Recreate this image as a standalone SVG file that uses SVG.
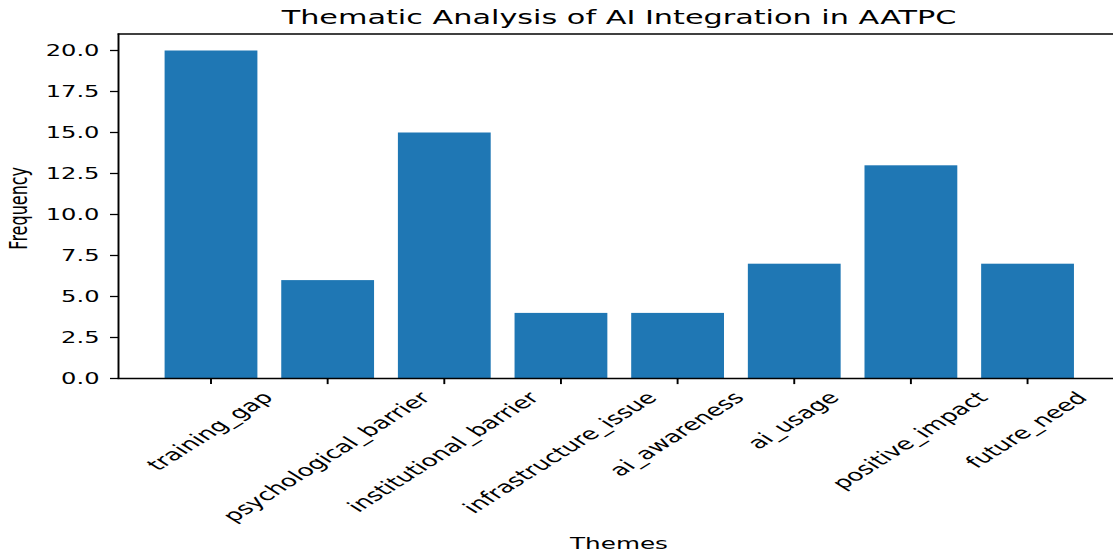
<svg xmlns="http://www.w3.org/2000/svg" width="1113" height="554" viewBox="0 0 1113 554">
  <style>
    text { font-family: "DejaVu Sans", "Liberation Sans", sans-serif; fill: #000; }
    .tick { font-size: 13.89px; }
    .xlab { font-size: 14.3px; }
    .ytl { text-anchor: end; }
    .xtl { text-anchor: middle; }
    .bar { fill: #1f77b4; }
    .vline { stroke: #000; stroke-width: 1.93; fill: none; }
    .hline { stroke: #000; stroke-width: 1.28; fill: none; }
  </style>

  <rect width="1113" height="554" fill="#fff"/>

  <!-- bars -->
  <g id="bars">
    <g id="bar-training_gap"><rect class="bar" x="164.6" y="50.5" width="92.8" height="328"/></g>
    <g id="bar-psychological_barrier"><rect class="bar" x="281.25" y="280.1" width="92.8" height="98.4"/></g>
    <g id="bar-institutional_barrier"><rect class="bar" x="397.9" y="132.5" width="92.8" height="246"/></g>
    <g id="bar-infrastructure_issue"><rect class="bar" x="514.55" y="312.9" width="92.8" height="65.6"/></g>
    <g id="bar-ai_awareness"><rect class="bar" x="631.2" y="312.9" width="92.8" height="65.6"/></g>
    <g id="bar-ai_usage"><rect class="bar" x="747.85" y="263.7" width="92.8" height="114.8"/></g>
    <g id="bar-positive_impact"><rect class="bar" x="864.5" y="165.3" width="92.8" height="213.2"/></g>
    <g id="bar-future_need"><rect class="bar" x="981.15" y="263.7" width="92.8" height="114.8"/></g>
  </g>

  <!-- axes frame and ticks -->
  <g id="axes">
    <line class="vline" x1="118.5" y1="33.4" x2="118.5" y2="379.1"/>
    <line class="hline" x1="117.6" y1="34" x2="1113" y2="34"/>
    <line class="hline" x1="117.6" y1="378.5" x2="1113" y2="378.5"/>
    <!-- y ticks -->
    <g class="hline">
      <line x1="110" y1="378.5" x2="118.5" y2="378.5"/>
      <line x1="110" y1="337.5" x2="118.5" y2="337.5"/>
      <line x1="110" y1="296.5" x2="118.5" y2="296.5"/>
      <line x1="110" y1="255.5" x2="118.5" y2="255.5"/>
      <line x1="110" y1="214.5" x2="118.5" y2="214.5"/>
      <line x1="110" y1="173.5" x2="118.5" y2="173.5"/>
      <line x1="110" y1="132.5" x2="118.5" y2="132.5"/>
      <line x1="110" y1="91.5" x2="118.5" y2="91.5"/>
      <line x1="110" y1="50.5" x2="118.5" y2="50.5"/>
    </g>
    <!-- x ticks -->
    <g class="vline">
      <line x1="211" y1="378.5" x2="211" y2="384.1"/>
      <line x1="327.65" y1="378.5" x2="327.65" y2="384.1"/>
      <line x1="444.3" y1="378.5" x2="444.3" y2="384.1"/>
      <line x1="560.95" y1="378.5" x2="560.95" y2="384.1"/>
      <line x1="677.6" y1="378.5" x2="677.6" y2="384.1"/>
      <line x1="794.25" y1="378.5" x2="794.25" y2="384.1"/>
      <line x1="910.9" y1="378.5" x2="910.9" y2="384.1"/>
      <line x1="1027.55" y1="378.5" x2="1027.55" y2="384.1"/>
    </g>
  </g>

  <!-- y tick labels -->
  <g id="y-labels" class="tick">
    <g transform="translate(99.5,384.3) scale(1.739,1.154)"><text class="ytl">0.0</text></g>
    <g transform="translate(99.5,343.3) scale(1.739,1.154)"><text class="ytl">2.5</text></g>
    <g transform="translate(99.5,302.3) scale(1.739,1.154)"><text class="ytl">5.0</text></g>
    <g transform="translate(99.5,261.3) scale(1.739,1.154)"><text class="ytl">7.5</text></g>
    <g transform="translate(99.5,220.3) scale(1.739,1.154)"><text class="ytl">10.0</text></g>
    <g transform="translate(99.5,179.3) scale(1.739,1.154)"><text class="ytl">12.5</text></g>
    <g transform="translate(99.5,138.3) scale(1.739,1.154)"><text class="ytl">15.0</text></g>
    <g transform="translate(99.5,97.3) scale(1.739,1.154)"><text class="ytl">17.5</text></g>
    <g transform="translate(99.5,56.3) scale(1.739,1.154)"><text class="ytl">20.0</text></g>
  </g>

  <!-- x tick labels, rotated 45 degrees -->
  <g id="x-labels" class="xlab">
    <g transform="translate(211,431.9) scale(1.84,1.154) rotate(-45)"><text class="xtl" y="3.94">training_gap</text></g>
    <g transform="translate(327.65,457.6) scale(1.84,1.154) rotate(-45)"><text class="xtl" y="3.94">psychological_barrier</text></g>
    <g transform="translate(444.3,452.6) scale(1.84,1.154) rotate(-45)"><text class="xtl" y="3.94">institutional_barrier</text></g>
    <g transform="translate(560.95,453.2) scale(1.84,1.154) rotate(-45)"><text class="xtl" y="3.94">infrastructure_issue</text></g>
    <g transform="translate(677.6,434.7) scale(1.84,1.154) rotate(-45)"><text class="xtl" y="3.94">ai_awareness</text></g>
    <g transform="translate(794.25,421.1) scale(1.84,1.154) rotate(-45)"><text class="xtl" y="3.94">ai_usage</text></g>
    <g transform="translate(910.9,441.2) scale(1.84,1.154) rotate(-45)"><text class="xtl" y="3.94">positive_impact</text></g>
    <g transform="translate(1027.55,430.6) scale(1.84,1.154) rotate(-45)"><text class="xtl" y="3.94">future_need</text></g>
  </g>

  <!-- axis titles -->
  <g id="axis-titles" class="tick">
    <g transform="translate(26.9,208.3) scale(1.739,1.154) rotate(-90)"><text class="xtl">Frequency</text></g>
    <g transform="translate(619,549.3) scale(1.739,1.154)"><text class="xtl" font-size="14.2">Themes</text></g>
  </g>

  <!-- chart title -->
  <g id="title" transform="translate(619,23.5) scale(1.739,1.154)">
    <text text-anchor="middle" font-size="17" textLength="388" lengthAdjust="spacingAndGlyphs">Thematic Analysis of AI Integration in AATPC</text>
  </g>
</svg>
